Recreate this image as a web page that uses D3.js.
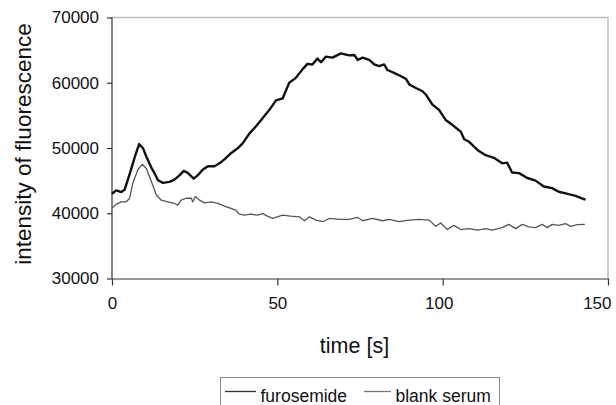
<!DOCTYPE html>
<html>
<head>
<meta charset="utf-8">
<script src="https://cdn.jsdelivr.net/npm/d3@7"></script>
<style>
  body { margin: 0; background: #fff; }
  svg { display: block; font-family: "Liberation Sans", Arial, sans-serif; }
</style>
</head>
<body>
<div id="chart"></div>
<script>
// series
var furosemideTime = [0, 1.3, 2.8, 3.8, 5.4, 6.9, 8.2, 9.4, 10.4, 11.9, 12.9, 13.9, 15.4, 17.4, 18.9, 20.4, 21.7, 22.9, 24.7, 25.9,
  27.5, 29, 31, 32.5, 34, 36, 38, 39.5, 41.6, 43.5, 45.6, 47.6, 49.6, 51.6, 53.6, 55.6, 57.6, 59.1, 60.6, 62.1,
  63.2, 64.7, 66.7, 69.2, 71.7, 73.3, 74.3, 75.8, 77.8, 79.3, 80.8, 82.3, 83.3, 85.3, 87.4, 88.9, 89.9, 91.9, 93.9, 94.9,
  96.9, 98.9, 100.9, 102.9, 105.5, 106.5, 108, 110.5, 113, 115.5, 118, 119.5, 121, 123.1, 125.6, 128.1, 130.6, 133.1, 135.1, 137.2,
  140.2, 142.7, 143.2];
var furosemideValues = [43000, 43500, 43250, 43600, 46100, 48650, 50600, 49950, 48650, 47000, 46100, 45050, 44650, 44800, 45150, 45800, 46500, 46200, 45300, 45800,
  46700, 47200, 47200, 47650, 48250, 49200, 49950, 50700, 52250, 53300, 54600, 55850, 57300, 57600, 60000, 60750, 62050, 62900, 62800, 63700,
  63150, 64000, 63850, 64500, 64200, 64250, 63500, 63850, 63500, 62800, 62550, 62800, 61950, 61500, 61000, 60600, 59750, 59200, 58700, 58200,
  56650, 55850, 54300, 53550, 52500, 51350, 50950, 49700, 48900, 48500, 47650, 47750, 46250, 46150, 45400, 45000, 44100, 43850, 43300, 43050,
  42650, 42150, 42150];

var blankTime = [0, 1.3, 2.8, 4.3, 5.3, 6.3, 7.8, 9.1, 10.4, 11.9, 13.4, 14.9, 16.9, 18.9, 19.9, 20.9, 22.4, 24, 24.4, 25.2,
  26.5, 28, 30, 32, 34, 36, 37.5, 38.5, 40, 42, 44, 45.6, 47, 48.6, 51.6, 54, 56.7, 58.2, 59.7, 61.7,
  63.7, 65.7, 68.7, 71.7, 74.3, 75.8, 78.8, 81.8, 83.8, 86.8, 89.9, 92.9, 95.9, 97.9, 99.4, 101.4, 103.4, 105.5, 108, 110.5,
  113, 115, 118, 120, 122.1, 124.1, 126.1, 128.1, 130.1, 131.6, 133.1, 135.1, 137.2, 138.7, 140.7, 143];
var blankValues = [40750, 41400, 41750, 41750, 42250, 44600, 46650, 47500, 46850, 44850, 42800, 42000, 41750, 41500, 41250, 42000, 42300, 42300, 41750, 42550,
  42000, 41600, 41750, 41500, 41100, 40750, 40450, 39850, 39700, 39850, 39700, 39950, 39550, 39200, 39700, 39550, 39450, 38850, 39450, 38950,
  38700, 39200, 39050, 39050, 39350, 38850, 39200, 38850, 39050, 38700, 38950, 39050, 38950, 38000, 38500, 37500, 38150, 37500, 37650, 37400,
  37650, 37400, 37800, 38300, 37650, 38300, 37900, 37800, 38300, 37800, 38300, 38150, 38400, 38000, 38250, 38300];

var xTicks = [0, 50, 100, 150];
var yTicks = [30000, 40000, 50000, 60000, 70000];
var seriesNames = ["furosemide", "blank serum"];

var margin = {top: 17.5, right: 8, bottom: 126.5, left: 112},
    width = 616 - margin.left - margin.right,
    height = 405 - margin.top - margin.bottom;

var svg = d3.select("#chart")
  .append("svg")
  .attr("width", 616)
  .attr("height", 405);

var g = svg.append("g")
  .attr("transform", "translate(" + margin.left + "," + margin.top + ")");

var x = d3.scaleLinear().domain([0, 150]).range([0, width]);
var y = d3.scaleLinear().domain([30000, 70000]).range([height, 0]);

// light frame on top and right
g.append("path")
  .attr("d", "M0,0H" + width + "V" + height)
  .attr("fill", "none")
  .attr("stroke", "#bdbdbd")
  .attr("stroke-width", 1.5);

// axes
var yAxis = g.append("g")
  .call(d3.axisLeft(y).tickValues(yTicks).tickSize(5).tickPadding(8).tickFormat(d3.format("d")));
var xAxis = g.append("g")
  .attr("transform", "translate(0," + height + ")")
  .call(d3.axisBottom(x).tickValues(xTicks).tickSize(7).tickPadding(11).tickSizeOuter(0));

[xAxis, yAxis].forEach(function(a) {
  a.select(".domain").attr("stroke", "#333").attr("stroke-width", 1.2);
  a.selectAll(".tick line").attr("stroke", "#333").attr("stroke-width", 1.2);
  a.selectAll("text").style("font-size", "17px").attr("fill", "#111")
    .attr("font-family", "Liberation Sans, Arial, sans-serif");
});
yAxis.select(".domain").attr("d", "M0," + height + "V0");

// labels near the right end are nudged left, the last one kept inside the page
xAxis.selectAll(".tick text")
  .filter(function(d) { return d === 100; })
  .attr("x", -4);
xAxis.selectAll(".tick text")
  .filter(function(d) { return d === 150; })
  .attr("text-anchor", "end")
  .attr("x", 3);

// lines
var line = d3.line()
  .x(function(d) { return x(d[0]); })
  .y(function(d) { return y(d[1]); });

var blankData = blankTime.map(function(t, i) { return [t, blankValues[i]]; });
var furoData = furosemideTime.map(function(t, i) { return [t, furosemideValues[i]]; });

g.append("path")
  .datum(blankData)
  .attr("d", line)
  .attr("fill", "none")
  .attr("stroke", "#555")
  .attr("stroke-width", 1.3)
  .attr("stroke-linejoin", "round");

g.append("path")
  .datum(furoData)
  .attr("d", line)
  .attr("fill", "none")
  .attr("stroke", "#111")
  .attr("stroke-width", 2.4)
  .attr("stroke-linejoin", "round");

// axis titles
svg.append("text")
  .attr("transform", "translate(31,144) rotate(-90)")
  .attr("text-anchor", "middle")
  .attr("font-size", 22.5)
  .attr("fill", "#111")
  .text("intensity of fluorescence");

svg.append("text")
  .attr("x", 354.5)
  .attr("y", 353)
  .attr("text-anchor", "middle")
  .attr("font-size", 21.5)
  .attr("fill", "#111")
  .text("time [s]");

// legend
var legend = svg.append("g");
legend.append("rect")
  .attr("x", 220.5).attr("y", 377.5)
  .attr("width", 279).attr("height", 40)
  .attr("fill", "#fff")
  .attr("stroke", "#8a8a8a")
  .attr("stroke-width", 1);

var legendItems = [
  {name: seriesNames[0], x1: 225, x2: 256, tx: 260.5, color: "#333"},
  {name: seriesNames[1], x1: 364, x2: 391, tx: 395.5, color: "#777"}
];
legendItems.forEach(function(d) {
  legend.append("line")
    .attr("x1", d.x1).attr("x2", d.x2)
    .attr("y1", 391.5).attr("y2", 391.5)
    .attr("stroke", d.color)
    .attr("stroke-width", 1.3);
  legend.append("text")
    .attr("x", d.tx).attr("y", 401.5)
    .attr("font-size", 17.5)
    .attr("fill", "#111")
    .text(d.name);
});
</script>
</body>
</html>
